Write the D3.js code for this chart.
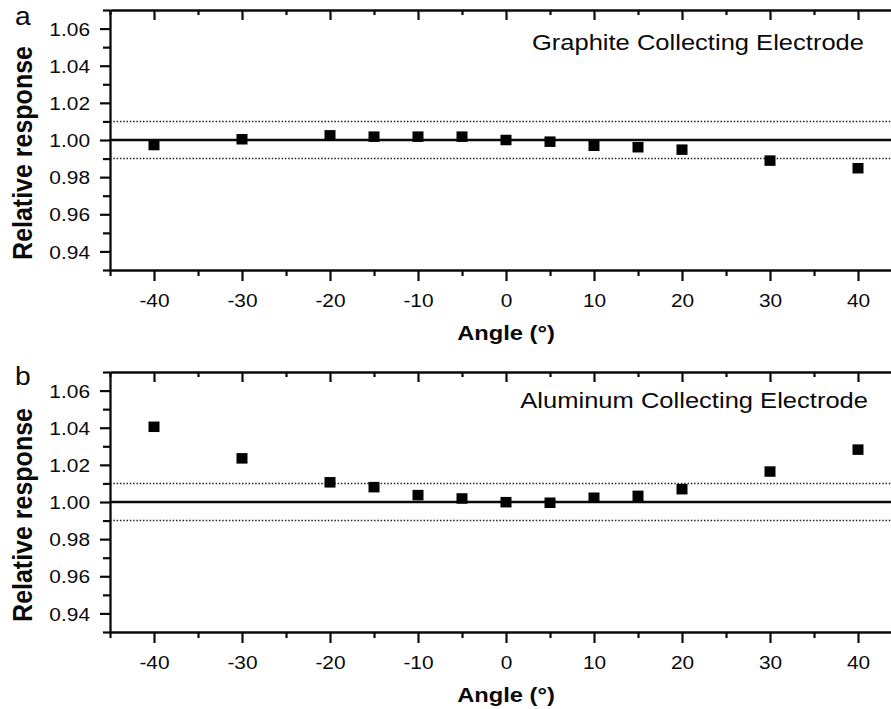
<!DOCTYPE html>
<html><head><meta charset="utf-8">
<script src="https://cdn.jsdelivr.net/npm/d3@7"></script>
<style>
body{margin:0;background:#fff}
svg{display:block}
text{font-family:Arial,"Liberation Sans",Helvetica,sans-serif;fill:#0a0a0a}
</style>
</head><body>
<svg id="chart" width="891" height="709"></svg>
<script>
// ---- data ----
const angles = [-40, -30, -20, -15, -10, -5, 0, 5, 10, 15, 20, 30, 40];
const graphite = [0.9973, 1.0004, 1.0025, 1.0018, 1.0018, 1.0018, 1.0000, 0.9991, 0.9969, 0.9961, 0.9948, 0.9889, 0.9848];
const aluminum = [1.0405, 1.0235, 1.0106, 1.0080, 1.0037, 1.0019, 0.9999, 0.9996, 1.0023, 1.0033, 1.0069, 1.0164, 1.0282];
const panelLetters = ["a", "b"];
const panelTitles = ["Graphite Collecting Electrode", "Aluminum Collecting Electrode"];
const yMajorTicks = [0.94, 0.96, 0.98, 1.00, 1.02, 1.04, 1.06];
const yMinorTicks = [0.93, 0.95, 0.97, 0.99, 1.01, 1.03, 1.05, 1.07];
const xMajorTicks = [-40, -30, -20, -10, 0, 10, 20, 30, 40];
const xMinorTicks = [-45, -35, -25, -15, -5, 5, 15, 25, 35, 45];
const referenceLine = [1.00];
const toleranceLines = [0.99, 1.01];
const xTitle = "Angle (°)";
const yTitle = "Relative response";
const xDomain = [-45, 45];
const yDomain = [0.93, 1.07];

// ---- layout ----
const SX = 1.13; // horizontal stretch of the original figure's text
const svg = d3.select("#chart");
const left = 110, right = 902, plotH = 260;
const panels = [
  {top: 10, values: graphite, titleX: 864, titleY: 50, letterY: 25},
  {top: 372, values: aluminum, titleX: 868, titleY: 408, letterY: 385}
];

function styleAxis(sel) {
  sel.selectAll("path.domain").attr("stroke", "#0a0a0a").attr("stroke-width", 2.3);
  sel.selectAll(".tick line").attr("stroke", "#0a0a0a").attr("stroke-width", 2.2);
}

panels.forEach((p, i) => {
  const g = svg.append("g");
  const x = d3.scaleLinear().domain(xDomain).range([left, right]);
  const y = d3.scaleLinear().domain(yDomain).range([p.top + plotH, p.top]);
  const bottom = p.top + plotH;

  // tolerance (dotted) and reference (solid) lines
  g.selectAll("line.tol").data(toleranceLines).join("line")
    .attr("x1", x(xDomain[0])).attr("x2", x(xDomain[1]))
    .attr("y1", d => y(d)).attr("y2", d => y(d))
    .attr("stroke", "#222").attr("stroke-width", 1.5)
    .attr("stroke-dasharray", "1.5,1.8");
  g.selectAll("line.ref").data(referenceLine).join("line")
    .attr("x1", x(xDomain[0])).attr("x2", x(xDomain[1]))
    .attr("y1", d => y(d)).attr("y2", d => y(d))
    .attr("stroke", "#0a0a0a").attr("stroke-width", 2.3);

  // axes: bottom
  const bMaj = g.append("g").attr("transform", `translate(0,${bottom})`)
    .call(d3.axisBottom(x).tickValues(xMajorTicks).tickSize(11).tickSizeOuter(0).tickFormat(d => String(d)));
  bMaj.selectAll("text").attr("y", 37).attr("dy", 0).attr("font-size", 18.5)
    .attr("font-family", "Arial, 'Liberation Sans', sans-serif").attr("fill", "#0a0a0a")
    .attr("transform", `scale(${SX},1)`);
  styleAxis(bMaj);
  const bMin = g.append("g").attr("transform", `translate(0,${bottom})`)
    .call(d3.axisBottom(x).tickValues(xMinorTicks).tickSize(6).tickSizeOuter(0).tickFormat(""));
  bMin.select("path.domain").remove();
  styleAxis(bMin);

  // top (mirror, inward ticks)
  const tMaj = g.append("g").attr("transform", `translate(0,${p.top})`)
    .call(d3.axisTop(x).tickValues(xMajorTicks).tickSize(-10).tickSizeOuter(0).tickFormat(""));
  styleAxis(tMaj);
  const tMin = g.append("g").attr("transform", `translate(0,${p.top})`)
    .call(d3.axisTop(x).tickValues(xMinorTicks).tickSize(-5).tickSizeOuter(0).tickFormat(""));
  tMin.select("path.domain").remove();
  styleAxis(tMin);

  // left
  const lMaj = g.append("g").attr("transform", `translate(${left},0)`)
    .call(d3.axisLeft(y).tickValues(yMajorTicks).tickSize(10).tickSizeOuter(0).tickFormat(d3.format(".2f")));
  lMaj.selectAll("text").attr("x", -20 / SX).attr("dy", "0.36em").attr("font-size", 18.5)
    .attr("font-family", "Arial, 'Liberation Sans', sans-serif").attr("fill", "#0a0a0a")
    .attr("transform", `scale(${SX},1)`);
  styleAxis(lMaj);
  const lMin = g.append("g").attr("transform", `translate(${left},0)`)
    .call(d3.axisLeft(y).tickValues(yMinorTicks).tickSize(7).tickSizeOuter(0).tickFormat(""));
  lMin.select("path.domain").remove();
  styleAxis(lMin);

  // right (mirror, inward ticks)
  const rMaj = g.append("g").attr("transform", `translate(${right},0)`)
    .call(d3.axisRight(y).tickValues(yMajorTicks).tickSize(-11).tickSizeOuter(0).tickFormat(""));
  styleAxis(rMaj);
  const rMin = g.append("g").attr("transform", `translate(${right},0)`)
    .call(d3.axisRight(y).tickValues(yMinorTicks).tickSize(-5).tickSizeOuter(0).tickFormat(""));
  rMin.select("path.domain").remove();
  styleAxis(rMin);

  // data points
  g.selectAll("rect.pt").data(angles.map((a, k) => ({a, v: p.values[k]}))).join("rect")
    .attr("class", "pt")
    .attr("x", d => x(d.a) - 5.5).attr("y", d => y(d.v) - 5.25)
    .attr("width", 11).attr("height", 10.5)
    .attr("fill", "#000");

  // panel title
  g.append("text").attr("transform", `translate(${p.titleX},${p.titleY}) scale(${SX},1)`)
    .attr("text-anchor", "end").attr("font-size", 22.6).text(panelTitles[i]);

  // panel letter
  g.append("text").attr("transform", `translate(15,${p.letterY}) scale(${SX},1)`)
    .attr("font-size", 25).text(panelLetters[i]);

  // axis titles
  g.append("text").attr("transform", `translate(${(left + right) / 2},${p.top + 330}) scale(${SX},1)`)
    .attr("text-anchor", "middle").attr("font-size", 21).attr("font-weight", "bold").text(xTitle);
  g.append("text").attr("transform", `translate(32,${p.top + plotH / 2 + 13}) scale(${SX},1) rotate(-90)`)
    .attr("text-anchor", "middle").attr("font-size", 25).attr("font-weight", "bold").text(yTitle);
});
</script>
</body></html>
